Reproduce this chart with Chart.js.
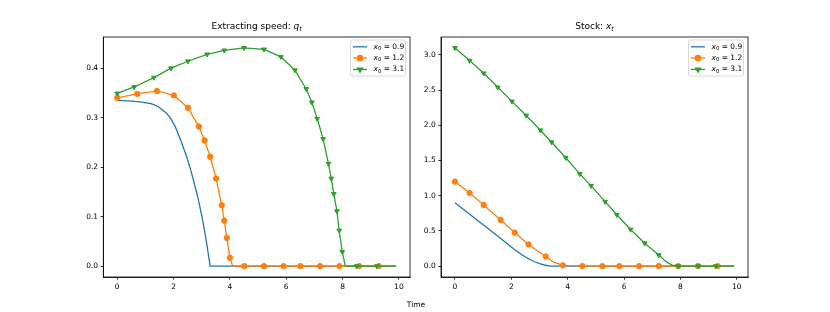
<!DOCTYPE html>
<html>
<head>
<meta charset="utf-8">
<script src="https://cdn.jsdelivr.net/npm/chart.js@4.4.0/dist/chart.umd.min.js"></script>
<style>
  body { margin: 0; background: #fff; }
  #wrap { position: relative; width: 830px; height: 312px; }
  #wrap canvas { position: absolute; top: 0; }
  #timeLabel { position: absolute; left: 0; width: 832px; top: 300px; line-height: 12px;
               text-align: center; font: 7.5px "DejaVu Sans"; color: #000; }
</style>
</head>
<body>
<div id="wrap">
  <canvas id="qChart" width="415" height="312" style="left:0"></canvas>
  <canvas id="xChart" width="415" height="312" style="left:415px"></canvas>
  <div id="timeLabel">Time</div>
</div>
<script>
// initial stock x0 of each run
const X0_LABELS = ['0.9', '1.2', '3.1'];
const COLORS = ['#1f77b4', '#ff7f0e', '#2ca02c'];

// ---- extracting speed q_t ----
const qBlueT = [0, 0.4, 0.8, 1.2, 1.4, 1.6, 1.75, 1.9, 2.05, 2.23, 2.46, 2.6, 2.7, 2.88, 3.05, 3.17, 3.3, 9.9];
const qBlueV = [0.335, 0.334, 0.332, 0.3285, 0.324, 0.316, 0.309, 0.298, 0.283, 0.258, 0.222, 0.196, 0.175, 0.135, 0.088, 0.048, 0.0, 0.0];

const qOrangeMarkT = [0, 0.71, 1.41, 2.01, 2.51, 2.90, 3.10, 3.30, 3.51, 3.71, 3.80, 3.89, 4.00, 4.51, 5.21, 5.91, 6.50, 7.20, 7.89, 8.59, 9.29];
const qOrangeMarkV = [0.340, 0.348, 0.354, 0.345, 0.320, 0.282, 0.254, 0.221, 0.177, 0.123, 0.092, 0.057, 0.017, 0, 0, 0, 0, 0, 0, 0, 0];
const qOrangeExtraT = [4.1, 9.9];
const qOrangeExtraV = [0, 0];

const qGreenMarkT = [0, 0.60, 1.30, 1.91, 2.51, 3.19, 3.80, 4.50, 5.21, 5.81, 6.31, 6.71, 6.91, 7.10, 7.31, 7.50, 7.60, 7.69, 7.80, 7.88, 7.99, 8.50, 9.21];
const qGreenMarkV = [0.349, 0.362, 0.381, 0.400, 0.414, 0.428, 0.436, 0.441, 0.438, 0.423, 0.396, 0.358, 0.331, 0.298, 0.257, 0.207, 0.177, 0.146, 0.111, 0.072, 0.029, 0, 0];
const qGreenExtraT = [8.1, 9.9];
const qGreenExtraV = [0, 0];

// ---- stock x_t ----
const xBlueT = [0, 0.9, 1.5, 2.1, 2.4, 2.6, 2.8, 3.0, 3.2, 3.4, 9.9];
const xBlueV = [0.9, 0.62, 0.43, 0.24, 0.155, 0.105, 0.065, 0.035, 0.012, 0.0, 0.0];

const xOrangeMarkT = [0, 0.52, 1.02, 1.62, 2.12, 2.61, 3.22, 3.83, 4.52, 5.23, 5.83, 6.53, 7.23, 7.92, 8.62, 9.32];
const xOrangeMarkV = [1.2, 1.04, 0.868, 0.655, 0.476, 0.308, 0.137, 0.01, 0, 0, 0, 0, 0, 0, 0, 0];
const xOrangeExtraT = [3.5, 9.9];
const xOrangeExtraV = [0.055, 0];

const xGreenMarkT = [0, 0.52, 1.02, 1.52, 2.02, 2.53, 3.03, 3.43, 3.93, 4.43, 4.83, 5.33, 5.74, 6.23, 6.73, 7.23, 7.92, 8.64, 9.25];
const xGreenMarkV = [3.10, 2.92, 2.74, 2.54, 2.34, 2.14, 1.93, 1.76, 1.54, 1.31, 1.14, 0.915, 0.73, 0.52, 0.325, 0.156, 0.0, 0, 0];
const xGreenExtraT = [7.5, 7.7, 9.9];
const xGreenExtraV = [0.06, 0.015, 0];

function pts(t, v) { return t.map((x, i) => ({ x: x, y: v[i] })); }
function merged(t1, v1, t2, v2) { return pts(t1, v1).concat(pts(t2, v2)).sort((a, b) => a.x - b.x); }

const FONT = '"DejaVu Sans", sans-serif';

// text with italic math letters and subscripts
function drawMath(ctx, x, y, parts, size, align) {
  const fontOf = p => (p.it ? 'italic ' : '') + (p.sub ? size * 0.7 : size) + 'px ' + FONT;
  let total = 0;
  parts.forEach(p => { ctx.font = fontOf(p); p.w = ctx.measureText(p.t).width; total += p.w; });
  let cx = align === 'center' ? x - total / 2 : x;
  ctx.textAlign = 'left';
  ctx.textBaseline = 'middle';
  ctx.fillStyle = '#000';
  parts.forEach(p => {
    ctx.font = fontOf(p);
    ctx.fillText(p.t, cx, p.sub ? y + size * 0.25 : y);
    cx += p.w;
  });
}

const MARKERS = [null, { style: 'circle', rot: 0 }, { style: 'triangle', rot: 180 }];

const panelPlugin = {
  id: 'panel',
  afterDraw(chart, args, opts) {
    const ctx = chart.ctx, a = chart.chartArea;
    ctx.save();
    ctx.strokeStyle = '#000';
    ctx.lineWidth = 0.8;
    ctx.strokeRect(a.left, a.top, a.right - a.left, a.bottom - a.top);

    drawMath(ctx, (a.left + a.right) / 2, 27, opts.title, 9, 'center');

    // legend box, upper right
    const bw = 55, bh = 36, bx = a.right - 4.5 - bw, by = a.top + 3;
    ctx.fillStyle = 'rgba(255,255,255,0.8)';
    ctx.strokeStyle = '#d0d0d0';
    ctx.lineWidth = 0.8;
    ctx.beginPath();
    ctx.roundRect(bx, by, bw, bh, 2);
    ctx.fill();
    ctx.stroke();
    X0_LABELS.forEach((lab, i) => {
      const ry = by + 6.8 + i * 11.3;
      ctx.strokeStyle = COLORS[i];
      ctx.lineWidth = 1.3;
      ctx.beginPath();
      ctx.moveTo(bx + 2.5, ry);
      ctx.lineTo(bx + 16.5, ry);
      ctx.stroke();
      if (MARKERS[i]) {
        ctx.fillStyle = COLORS[i];
        Chart.helpers.drawPoint(ctx, { pointStyle: MARKERS[i].style, radius: 2.7, rotation: MARKERS[i].rot, borderWidth: 1 }, bx + 9.5, ry);
      }
      drawMath(ctx, bx + 23, ry, [{ t: 'x', it: true }, { t: '0', sub: true }, { t: ' = ' + lab }], 7.5, 'left');
    });
    ctx.restore();
  }
};

function lineSet(data, i, order) {
  return { data: data, borderColor: COLORS[i], borderWidth: 1.3, pointRadius: 0, tension: 0, order: order };
}
function markSet(data, i, order) {
  return {
    data: data, showLine: false, pointStyle: MARKERS[i].style, rotation: MARKERS[i].rot,
    pointRadius: 2.7, pointBackgroundColor: COLORS[i], pointBorderColor: COLORS[i], pointBorderWidth: 1, order: order
  };
}

function axis(min, max, step, digits, afterFit) {
  return {
    type: 'linear', min: min, max: max,
    grid: { drawOnChartArea: false, drawTicks: true, tickLength: 2.6, tickWidth: 0.8, tickColor: '#000' },
    border: { display: true, color: '#000', width: 0.8 },
    ticks: {
      stepSize: step, includeBounds: false, padding: 2.6, color: '#000', maxRotation: 0, autoSkip: false,
      font: { family: FONT, size: 7.5 },
      callback: v => Number(v).toFixed(digits)
    },
    afterFit: afterFit
  };
}

function makeChart(el, datasets, yMin, yMax, yStep, yWidth, padRight, title) {
  return new Chart(el, {
    type: 'line',
    data: { datasets: datasets },
    options: {
      responsive: false,
      animation: false,
      parsing: true,
      layout: { padding: { top: 37, right: padRight, bottom: 0, left: 0 } },
      plugins: { legend: { display: false }, tooltip: { enabled: false }, panel: { title: title } },
      scales: {
        x: axis(-0.495, 10.395, 2, 0, s => { s.height = 35; }),
        y: axis(yMin, yMax, yStep, 1, s => { s.width = yWidth; })
      }
    },
    plugins: [panelPlugin]
  });
}

makeChart(document.getElementById('qChart'), [
  markSet(pts(qGreenMarkT, qGreenMarkV), 2, 0),
  lineSet(merged(qGreenMarkT, qGreenMarkV, qGreenExtraT, qGreenExtraV), 2, 1),
  markSet(pts(qOrangeMarkT, qOrangeMarkV), 1, 2),
  lineSet(merged(qOrangeMarkT, qOrangeMarkV, qOrangeExtraT, qOrangeExtraV), 1, 3),
  lineSet(pts(qBlueT, qBlueV), 0, 4)
], -0.022, 0.463, 0.1, 103.3, 4.5,
  [{ t: 'Extracting speed: ' }, { t: 'q', it: true }, { t: 't', it: true, sub: true }]);

makeChart(document.getElementById('xChart'), [
  markSet(pts(xGreenMarkT, xGreenMarkV), 2, 0),
  lineSet(merged(xGreenMarkT, xGreenMarkV, xGreenExtraT, xGreenExtraV), 2, 1),
  markSet(pts(xOrangeMarkT, xOrangeMarkV), 1, 2),
  lineSet(merged(xOrangeMarkT, xOrangeMarkV, xOrangeExtraT, xOrangeExtraV), 1, 3),
  lineSet(pts(xBlueT, xBlueV), 0, 4)
], -0.155, 3.255, 0.5, 26, 82,
  [{ t: 'Stock: ' }, { t: 'x', it: true }, { t: 't', it: true, sub: true }]);
</script>
</body>
</html>
